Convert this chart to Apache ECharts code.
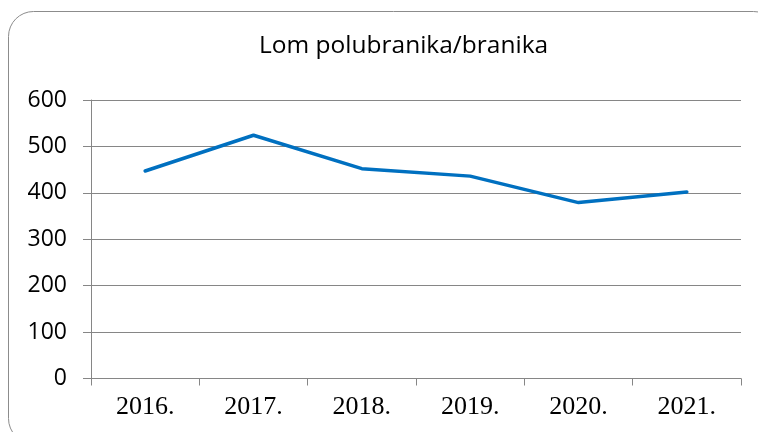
<!DOCTYPE html>
<html><head><meta charset="utf-8">
<script src="https://cdn.jsdelivr.net/npm/echarts@6/dist/echarts.min.js"></script>
<style>html,body{margin:0;padding:0;background:#fff}#c{width:758px;height:432px}</style>
</head><body><div id="c"></div>
<script>
const titleText = 'Lom polubranika/branika';
const categories = ['2016.', '2017.', '2018.', '2019.', '2020.', '2021.'];
const values = [447, 524, 452, 436, 379, 402];
const yTicks = [0, 100, 200, 300, 400, 500, 600];

const chart = echarts.init(document.getElementById('c'), null, {renderer: 'canvas'});
chart.setOption({
  animation: false,
  backgroundColor: '#ffffff',
  title: {
    text: titleText, left: 254, top: 29,
    textStyle: {fontFamily: 'Open Sans', fontSize: 24.5, fontWeight: 'normal', color: '#000'}
  },
  graphic: [{
    type: 'rect', z: -1, silent: true,
    shape: {x: 8.5, y: 11.5, width: 770, height: 432, r: 25},
    style: {fill: 'none', stroke: '#8c8c8c', lineWidth: 1}
  }],
  grid: {left: 91, right: 17, top: 100, bottom: 53.5, containLabel: false},
  xAxis: {
    type: 'category', data: categories, boundaryGap: true,
    axisLine: {show: true, lineStyle: {color: '#868686', width: 1}},
    axisTick: {show: true, length: 7, lineStyle: {color: '#868686'}},
    axisLabel: {fontFamily: 'Liberation Serif', fontSize: 26, color: '#000', margin: 16},
    splitLine: {show: false}
  },
  yAxis: {
    type: 'value', min: yTicks[0], max: yTicks[yTicks.length - 1], interval: 100,
    axisLine: {show: true, lineStyle: {color: '#868686', width: 1}},
    axisTick: {show: true, length: 8, lineStyle: {color: '#868686'}},
    axisLabel: {fontFamily: 'Open Sans', fontSize: 23, color: '#000', margin: 24},
    splitLine: {show: true, lineStyle: {color: '#868686', width: 1}}
  },
  series: [{
    type: 'line', data: values, symbol: 'none',
    lineStyle: {color: '#0070C0', width: 3.5, cap: 'round', join: 'round'},
    itemStyle: {color: '#0070C0'}
  }]
});
</script></body></html>
